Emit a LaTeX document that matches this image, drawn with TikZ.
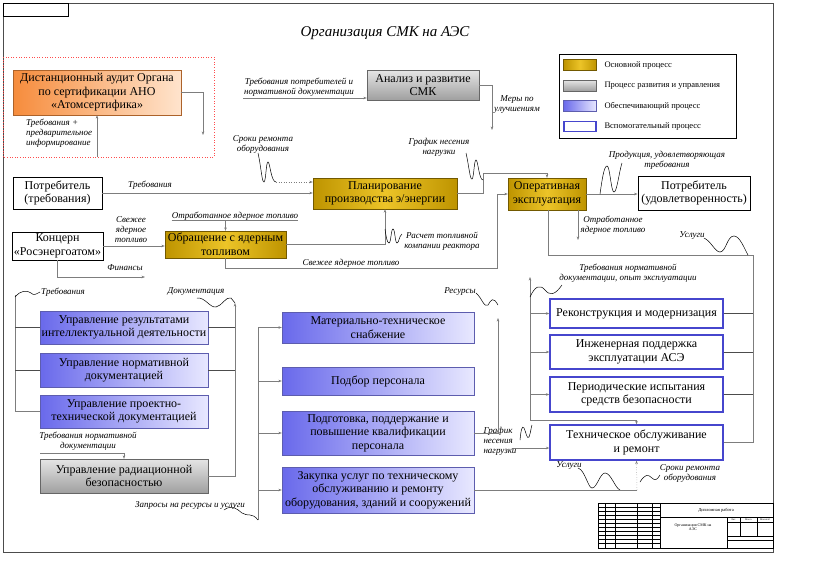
\documentclass[tikz,border=0pt]{standalone}
\usepackage{fontspec}
\setmainfont{Liberation Serif}
\usetikzlibrary{arrows.meta}
\definecolor{goldA}{RGB}{190,148,0}
\definecolor{goldB}{RGB}{236,196,40}
\definecolor{bluA}{RGB}{105,105,235}
\definecolor{bluB}{RGB}{232,232,255}
\definecolor{bluL}{RGB}{70,70,205}
\definecolor{orgA}{RGB}{246,140,60}
\definecolor{orgB}{RGB}{255,228,205}
\definecolor{lineG}{RGB}{125,125,125}
\tikzset{box/.style={draw, align=center, inner sep=1pt, font=\fontsize{12}{13.5}\selectfont}}
\tikzset{mainproc/.style={draw=goldA!60!black, left color=goldA, right color=goldA, middle color=goldB}}
\tikzset{mgmtproc/.style={draw=black!60, top color=gray!20, bottom color=gray!75}}
\tikzset{supproc/.style={draw=bluL!60!gray, left color=bluA, right color=bluB}}
\tikzset{auxproc/.style={draw=bluL, line width=1.3pt, fill=white}}
\tikzset{audproc/.style={draw=orgA!70!black, left color=orgA, right color=orgB}}
\tikzset{plain/.style={draw=black, line width=0.9pt, fill=white}}
\tikzset{lbl/.style={font=\fontsize{9}{10}\selectfont\itshape, align=center, inner sep=0pt}}
\tikzset{arr/.style={draw=lineG, line width=0.5pt, -{Stealth[length=3.5pt,width=2.6pt]}}}
\tikzset{con/.style={draw=lineG, line width=0.5pt}}
\tikzset{bus/.style={draw=black!70, line width=0.9pt}}
\tikzset{wave/.style={draw=black, line width=0.5pt}}

\begin{document}
\begin{tikzpicture}[x=1pt,y=-1pt]
  \useasboundingbox (0,0) rectangle (819,560);
  \draw[line width=0.8pt, black!70] (3,3) rectangle (773,552);
  \draw[line width=0.8pt] (3,3) rectangle (68,16);
  \node[font=\fontsize{15}{18}\selectfont\itshape] (title) at (385,33) {Организация СМК на АЭС};

  \draw[red!70, dotted, line width=0.6pt] (3,57) rectangle (214,157);
  \node[box, audproc, minimum width=168, minimum height=45] (audit) at (97,92.5) {Дистанционный аудит Органа\\по сертификации АНО\\«Атомсертифика»};
  \coordinate (audout) at (203,135);
  \draw[arr] (audit.east) -| (audout);
  \coordinate (audin) at (97,157);
  \draw[arr] (audin) -- (audit.south);
  \node[lbl, align=left, anchor=north west] (audreq) at (26,119) {Требования +\\предварительное\\информирование};

  \node[box, mgmtproc, minimum width=112, minimum height=30] (anal) at (423,85) {Анализ и развитие\\СМК};
  \node[lbl] (reqdoc) at (299,87) {Требования потребителей и\\нормативной документации};
  \coordinate (reqin) at (243,98);
  \draw[arr] (reqin) -- (reqin -| anal.west);
  \coordinate (measout) at (492,130);
  \draw[arr] (anal.east) -| (measout);
  \node[lbl] (meas) at (517,105) {Меры по\\улучшениям};

  \draw[line width=0.7pt] (559,54) rectangle (736,138);
  \node[mainproc, minimum width=33, minimum height=11, inner sep=0pt] (sw1) at (580,65) {};
  \node[mgmtproc, minimum width=33, minimum height=11, inner sep=0pt] (sw2) at (580,85.5) {};
  \node[supproc, minimum width=33, minimum height=11, inner sep=0pt] (sw3) at (580,106) {};
  \node[auxproc, minimum width=32, minimum height=10, inner sep=0pt] (sw4) at (580,126.5) {};
  \node[anchor=west, font=\fontsize{8.5}{10}\selectfont] (lg1) at (601,65) {Основной процесс};
  \node[anchor=west, font=\fontsize{8.5}{10}\selectfont] (lg2) at (601,85.5) {Процесс развития и управления};
  \node[anchor=west, font=\fontsize{8.5}{10}\selectfont] (lg3) at (601,106) {Обеспечивающий процесс};
  \node[anchor=west, font=\fontsize{8.5}{10}\selectfont] (lg4) at (601,126.5) {Вспомогательный процесс};

  \node[box, plain, minimum width=89, minimum height=32] (cons) at (57.5,193) {Потребитель\\(требования)};
  \node[box, plain, minimum width=91, minimum height=28] (konc) at (57.5,246) {Концерн\\«Росэнергоатом»};
  \node[box, mainproc, minimum width=121, minimum height=27] (obr) at (225.5,244.5) {Обращение с ядерным\\топливом};
  \node[box, mainproc, minimum width=144, minimum height=31] (plan) at (385,193.5) {Планирование\\производства э/энергии};
  \node[box, mainproc, minimum width=78, minimum height=32] (oper) at (547,194) {Оперативная\\эксплуатация};
  \node[box, plain, minimum width=112, minimum height=34] (cons2) at (694,193) {Потребитель\\(удовлетворенность)};

  \draw[arr] (cons.east) -- (cons.east -| plan.west);
  \node[lbl] (reqlbl) at (150,185) {Требования};
  \node[lbl] (srok1) at (263,144) {Сроки ремонта\\оборудования};
  \coordinate (w1a) at (258,153);
  \coordinate (w1b) at (276,182);
  \draw[wave] (w1a) .. controls (261,166) and (262,183) .. (264,182) .. controls (266,181) and (266,162) .. (268,162) .. controls (270,162) and (271,182) .. (w1b);
  \draw[arr, dotted] (w1b) -- (w1b -| plan.west);

  \coordinate (pl1) at (483,173);
  \draw[arr] (plan.east) -| (pl1) -| (oper.north);
  \node[lbl] (graf1) at (439,147) {График несения\\нагрузки};
  \draw[wave] (466,153) .. controls (469,166) and (470,180) .. (472,179) .. controls (474,178) and (474,160) .. (476,160) .. controls (478,160) and (479,180) .. (483,180);

  \draw[arr] (obr.east) -| (plan.south);
  \node[lbl] (fuelcalc) at (442,241) {Расчет топливной\\компании реактора};
  \draw[wave] (385,229) .. controls (386,236) and (387,243) .. (389,243) .. controls (391,243) and (391,229) .. (393,229) .. controls (395,229) and (395,243) .. (397,243) .. controls (399,243) and (399,236) .. (402,234);

  \node[lbl] (spent1) at (235,216) {Отработанное ядерное топливо};
  \draw[con] (spent1.south west) -- (spent1.south east);
  \draw[arr] (spent1.south -| obr.north) -- (obr.north);

  \draw[arr] (konc.east) -- (konc.east -| obr.west);
  \node[lbl] (fresh1) at (131,230) {Свежее\\ядерное\\топливо};
  \coordinate (fin) at (145,277);
  \draw[arr] (konc.south) |- (fin);
  \node[lbl] (finlbl) at (125,268) {Финансы};

  \coordinate (fr1) at (497,268);
  \draw[arr] (obr.south) |- (fr1) |- (oper.west);
  \node[lbl, anchor=south] (fresh2) at (351,268) {Свежее ядерное топливо};

  \draw[arr] (oper.east) -- (oper.east -| cons2.west);
  \node[lbl] (prod) at (667,160) {Продукция, удовлетворяющая\\требования};
  \draw[wave] (600,194) .. controls (602,180) and (604,166) .. (607,166) .. controls (610,166) and (611,192) .. (614,192) .. controls (617,192) and (619,172) .. (622,163);

  \coordinate (sp2) at (578,240);
  \draw[arr] (oper.south -| sp2) -- (sp2);
  \node[lbl] (spent2) at (613,225) {Отработанное\\ядерное топливо};

  \coordinate (sv1) at (548,255);
  \coordinate (sv2) at (753,443);
  \draw[con] (oper.south -| sv1) |- (sv2 |- sv1) -- (sv2);
  \node[lbl] (serv1) at (692,236) {Услуги};
  \draw[wave] (704,238) .. controls (711,241) and (715,252) .. (720,252) .. controls (726,252) and (727,236) .. (734,236) .. controls (740,236) and (745,250) .. (748,255);

  \node[box, auxproc, minimum width=173, minimum height=29] (recon) at (636.5,313.5) {Реконструкция и модернизация};
  \node[box, auxproc, minimum width=173, minimum height=34] (eng) at (636.5,352) {Инженерная поддержка\\эксплуатации АСЭ};
  \node[box, auxproc, minimum width=173, minimum height=35] (period) at (636.5,394.5) {Периодические испытания\\средств безопасности};
  \node[box, auxproc, minimum width=173, minimum height=35] (tech) at (636.5,442.5) {Техническое обслуживание\\и ремонт};
  \draw[bus] (recon.east) -- (recon.east -| sv2);
  \draw[bus] (eng.east) -- (eng.east -| sv2);
  \draw[bus] (period.east) -- (period.east -| sv2);
  \draw[con] (tech.east) -- (tech.east -| sv2);

  \coordinate (rb1) at (530,277);
  \coordinate (rb2) at (530,420);
  \draw[arr] (rb2) -- (rb1);
  \draw[arr] (rb2) -| (tech.north);
  \draw[arr] (recon.west -| rb1) -- (recon.west);
  \draw[arr] (eng.west -| rb1) -- (eng.west);
  \draw[arr] (period.west -| rb1) -- (period.west);
  \node[lbl] (opexp) at (628,273) {Требования нормативной\\документации, опыт эксплуатации};
  \draw[wave] (530,297) .. controls (535,286) and (540,284) .. (545,290) .. controls (550,296) and (555,295) .. (562,285);

  \coordinate (tb) at (637,490);
  \node[lbl] (serv2) at (569,466) {Услуги};
  \draw[wave] (578,468) .. controls (585,470) and (588,488) .. (592,488) .. controls (597,488) and (600,473) .. (605,473) .. controls (611,473) and (615,488) .. (620,490);
  \node[lbl] (srok2) at (690,473) {Сроки ремонта\\оборудования};
  \draw[wave] (640,482) .. controls (645,474) and (648,474) .. (652,478) .. controls (655,481) and (657,480) .. (660,475);

  \coordinate (gr2) at (512,448);
  \draw[arr] (gr2) -- (gr2 -| tech.west);
  \node[lbl, align=left] (graf2) at (500,441) {График\\несения\\нагрузки};
  \draw[wave] (520,440) .. controls (521,430) and (522,425) .. (524,428) .. controls (526,432) and (527,440) .. (529,437) .. controls (531,432) and (531,427) .. (532,425);

  \node[box, supproc, minimum width=192, minimum height=31] (mat) at (378,327.5) {Материально-техническое\\снабжение};
  \node[box, supproc, minimum width=192, minimum height=28] (pers) at (378,381) {Подбор персонала};
  \node[box, supproc, minimum width=192, minimum height=44] (train) at (378,433) {Подготовка, поддержание и\\повышение квалификации\\персонала};
  \node[box, supproc, minimum width=192, minimum height=46] (zak) at (378,490) {Закупка услуг по техническому\\обслуживанию и ремонту\\оборудования, зданий и сооружений};
  \coordinate (mb1) at (258,327.5);
  \coordinate (mb2) at (258,520);
  \draw[con] (mb1) -- (mb2);
  \foreach \n in {mat,pers,train,zak}
    \draw[arr] (\n.west -| mb1) -- (\n.west);
  \draw[con] (zak.east) -- (zak.east -| tb);
  \draw[arr, dotted] (zak.east -| tb) -- (tech.south);
  \coordinate (res) at (498,318);
  \draw[arr] (train.east) -| (res);
  \node[lbl] (reslbl) at (460,292) {Ресурсы};
  \draw[wave] (476,293) .. controls (482,298) and (484,308) .. (488,305) .. controls (491,300) and (493,296) .. (498,305);
  \node[lbl] (reqres) at (190,505) {Запросы на ресурсы и услуги};
  \draw[wave] (224,510) .. controls (232,504) and (237,509) .. (242,513) .. controls (248,517) and (252,512) .. (mb2);

  \node[box, supproc, minimum width=168, minimum height=33] (intel) at (124,327.5) {Управление результатами\\интеллектуальной деятельности};
  \node[box, supproc, minimum width=168, minimum height=34] (normd) at (124,370) {Управление нормативной\\документацией};
  \node[box, supproc, minimum width=168, minimum height=33] (projd) at (124,411.5) {Управление проектно-\\технической документацией};
  \node[box, mgmtproc, minimum width=168, minimum height=34] (rad) at (124,476) {Управление радиационной\\безопасностью};
  \coordinate (lb1) at (15,295);
  \coordinate (rb3) at (235,303);
  \draw[con] (lb1) |- (projd.west);
  \draw[bus] (intel.west -| lb1) -- (intel.west);
  \draw[bus] (normd.west -| lb1) -- (normd.west);
  \draw[arr] (rad.east) -| (rb3);
  \draw[bus] (intel.east) -- (intel.east -| rb3);
  \draw[bus] (normd.east) -- (normd.east -| rb3);
  \node[lbl] (req3) at (63,292) {Требования};
  \draw[wave] (15,297) .. controls (21,290) and (27,290) .. (31,293) .. controls (34,296) and (36,294) .. (40,292);
  \node[lbl] (docs) at (196,292) {Документация};
  \draw[wave] (197,298) .. controls (205,297) and (210,308) .. (216,307) .. controls (222,306) and (226,296) .. (231,298) -- (rb3);
  \node[lbl] (radreq) at (88,441) {Требования нормативной\\документации};
  \coordinate (rq1) at (40,453);
  \draw[arr] (rq1) -| (rad.north);

  \draw[line width=0.6pt] (598,503) rectangle (773,548);
  \draw[line width=0.6pt] (660,503) -- (660,548);
  \draw[line width=0.6pt] (660,517) -- (773,517);
  \draw[line width=0.6pt] (727,517) -- (727,548);
  \draw[line width=0.4pt] (727,522) -- (773,522);
  \draw[line width=0.4pt] (740,517) -- (740,536) (757,517) -- (757,536);
  \draw[line width=0.6pt] (727,536) -- (773,536) (727,540) -- (773,540);
  \foreach \xx in {605,615,637,652}
    \draw[line width=0.4pt] (\xx,503) -- (\xx,548);
  \foreach \yy in {507,511,515,519,523,527,531,535,539,543}
    \draw[line width=0.3pt] (598,\yy) -- (660,\yy);
  \node[font=\fontsize{4.5}{5}\selectfont] (tbwork) at (716,510) {Дипломная работа};
  \node[font=\fontsize{4}{4.5}\selectfont, align=center] (tbname) at (693,527) {Организация СМК на\\АЭС};
  \node[font=\fontsize{2.5}{3}\selectfont] (tblit) at (733.5,519.5) {Лит.};
  \node[font=\fontsize{2.5}{3}\selectfont] (tbmass) at (748.5,519.5) {Масса};
  \node[font=\fontsize{2.5}{3}\selectfont] (tbscale) at (765,519.5) {Масштаб};
\end{tikzpicture}
\end{document}
